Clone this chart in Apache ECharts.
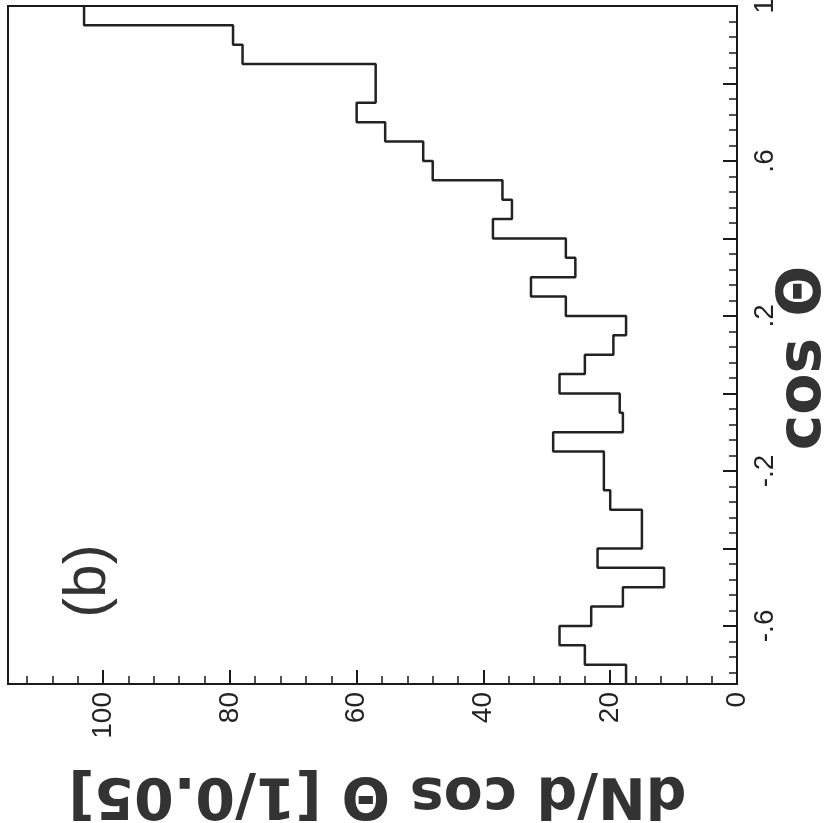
<!DOCTYPE html>
<html>
<head>
<meta charset="utf-8">
<script src="https://cdn.jsdelivr.net/npm/echarts@6/dist/echarts.min.js"></script>
<style>
  html, body { margin: 0; padding: 0; background: #fff; }
  #chart { width: 826px; height: 823px; }
</style>
</head>
<body>
<div id="chart"></div>
<script>
// Bin lower edges in cos θ (bin width 0.05)
const cosBinLow = [-0.75, -0.70, -0.65, -0.60, -0.55, -0.50, -0.45, -0.40, -0.35, -0.30,
                   -0.25, -0.20, -0.15, -0.10, -0.05, 0.00, 0.05, 0.10, 0.15, 0.20,
                   0.25, 0.30, 0.35, 0.40, 0.45, 0.50, 0.55, 0.60, 0.65, 0.70,
                   0.75, 0.80, 0.85, 0.90, 0.95];
const binWidth = 0.05;
// dN/d cos θ per bin
const counts = [17.5, 24, 28, 23, 18, 11.5, 22, 15, 15, 20,
                21, 21, 29, 18, 18.5, 28, 24, 19.5, 17.5, 27,
                32.5, 25.5, 27, 38.5, 35.5, 37, 48, 49.5, 55.5, 60,
                57, 57, 78, 79.5, 103];

// Axis ticks / labels
const countMajorTicks = [0, 20, 40, 60, 80, 100];
const countMinorTicks = [4, 8, 12, 16, 24, 28, 32, 36, 44, 48, 52, 56, 64, 68, 72, 76,
                         84, 88, 92, 96, 104, 108, 112];
const cosMajorTicks = [-0.6, -0.4, -0.2, 0, 0.2, 0.4, 0.6, 0.8, 1.0];
const cosMinorTicks = [-0.72, -0.68, -0.64, -0.56, -0.52, -0.48, -0.44, -0.36, -0.32, -0.28, -0.24,
                       -0.16, -0.12, -0.08, -0.04, 0.04, 0.08, 0.12, 0.16, 0.24, 0.28, 0.32, 0.36,
                       0.44, 0.48, 0.52, 0.56, 0.64, 0.68, 0.72, 0.76, 0.84, 0.88, 0.92, 0.96];
const cosLabelValues = [-0.6, -0.2, 0.2, 0.6, 1.0];

const countRange = [0, 115];
const cosRange = [-0.75, 1.0];

// Step outline built from the bins
const stepData = [];
for (let i = 0; i < counts.length; i++) {
  stepData.push([counts[i], cosBinLow[i]]);
  stepData.push([counts[i], +(cosBinLow[i] + binWidth).toFixed(4)]);
}

const ink = '#1a1a1a';
const labelFont = 'Liberation Sans';
const titleFont = 'DejaVu Sans';

function cosFmt(v) {
  let s = String(+v.toFixed(2));
  s = s.replace('0.', '.');
  return s;
}

const chart = echarts.init(document.getElementById('chart'), null, { renderer: 'canvas' });
chart.setOption({
  backgroundColor: '#ffffff',
  animation: false,
  grid: {
    left: 8, right: 89, top: 6, bottom: 139,
    containLabel: false, outerBoundsMode: 'none',
    show: true, borderColor: ink, borderWidth: 2, backgroundColor: 'transparent'
  },
  xAxis: [
    {
      type: 'value', min: countRange[0], max: countRange[1], inverse: true, position: 'bottom',
      axisLine: { show: true, onZero: false, lineStyle: { color: ink, width: 2 } },
      axisTick: { show: true, inside: true, length: 14, customValues: countMajorTicks,
                  lineStyle: { color: ink, width: 2 } },
      axisLabel: { show: true, rotate: 90, margin: 8, customValues: countMajorTicks,
                   fontSize: 28, fontFamily: labelFont, color: '#222' },
      splitLine: { show: false },
      name: 'dN/d cos Θ [1/0.05]', nameLocation: 'middle', nameGap: 80, nameRotate: 180,
      nameMoveOverlap: false,
      nameTextStyle: { fontSize: 57, fontWeight: 'bold', fontFamily: titleFont, color: '#333',
                       padding: [0, 10, 0, 0] }
    },
    {
      type: 'value', min: countRange[0], max: countRange[1], inverse: true, position: 'bottom',
      axisLine: { show: false, onZero: false },
      axisTick: { show: true, inside: true, length: 8, customValues: countMinorTicks,
                  lineStyle: { color: ink, width: 1.5 } },
      axisLabel: { show: false },
      splitLine: { show: false }
    }
  ],
  yAxis: [
    {
      type: 'value', min: cosRange[0], max: cosRange[1], position: 'right',
      axisLine: { show: true, onZero: false, lineStyle: { color: ink, width: 2 } },
      axisTick: { show: true, inside: true, length: 14, customValues: cosMajorTicks,
                  lineStyle: { color: ink, width: 2 } },
      axisLabel: { show: true, rotate: 90, margin: 14, customValues: cosLabelValues,
                   formatter: cosFmt, fontSize: 28, fontFamily: labelFont, color: '#222' },
      splitLine: { show: false },
      name: 'cos Θ', nameLocation: 'middle', nameGap: 37, nameRotate: 90,
      nameMoveOverlap: false,
      nameTextStyle: { fontSize: 60, fontWeight: 'bold', fontFamily: titleFont, color: '#333',
                       padding: [0, 26, 0, 0] }
    },
    {
      type: 'value', min: cosRange[0], max: cosRange[1], position: 'right',
      axisLine: { show: false, onZero: false },
      axisTick: { show: true, inside: true, length: 8, customValues: cosMinorTicks,
                  lineStyle: { color: ink, width: 1.5 } },
      axisLabel: { show: false },
      splitLine: { show: false }
    }
  ],
  graphic: [
    {
      type: 'text', x: 88, y: 581, rotation: Math.PI / 2,
      style: { text: '(b)', fontSize: 60, fontFamily: labelFont, fill: '#333',
               align: 'center', verticalAlign: 'middle' }
    }
  ],
  series: [
    {
      type: 'line', xAxisIndex: 0, yAxisIndex: 0,
      data: stepData, showSymbol: false, symbol: 'none',
      lineStyle: { color: '#222', width: 2.5 },
      clip: false
    }
  ]
});
</script>
</body>
</html>
